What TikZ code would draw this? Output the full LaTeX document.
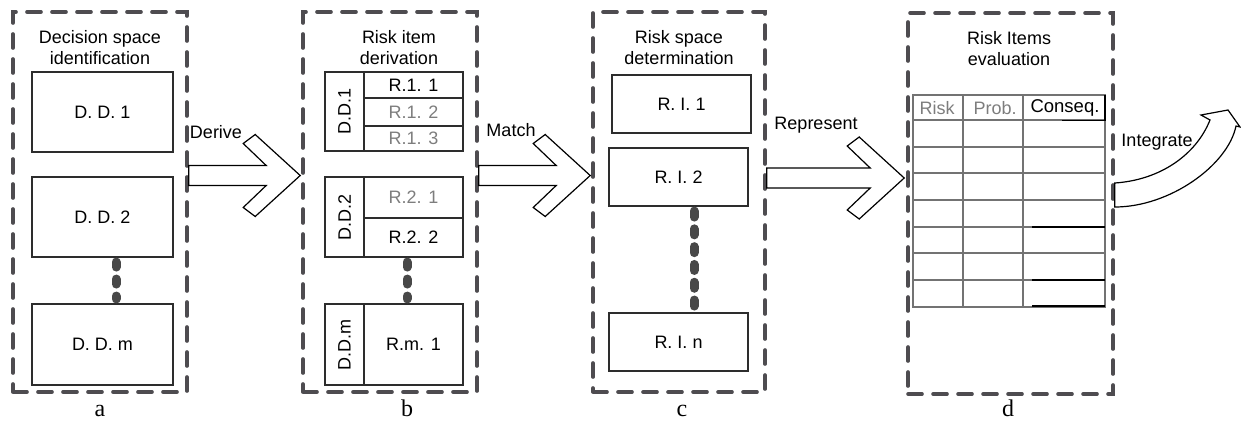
\documentclass[tikz,border=0pt]{standalone}
\usepackage{fontspec}
\setmainfont{Liberation Sans}
\newfontfamily\labelfont{Liberation Serif}
\usetikzlibrary{calc}
\definecolor{framec}{RGB}{78,76,80}
\definecolor{dotc}{RGB}{72,72,72}
\definecolor{boxc}{RGB}{45,45,45}
\definecolor{gridc}{RGB}{115,115,115}
\definecolor{greytext}{RGB}{125,125,125}
\newcommand{\blockarr}[2]{%
  \draw[blockarrow] ($(#1)+(0,-10)$) -- ($(#2)+(-34,-10)$) -- ($(#2)+(-57,-32)$) -- ($(#2)+(-45,-41)$) -- (#2) -- ($(#2)+(-45,41)$) -- ($(#2)+(-57,32)$) -- ($(#2)+(-34,10)$) -- ($(#1)+(0,10)$) -- cycle;}
\begin{document}
\begin{tikzpicture}[x=1pt,y=-1pt,
  frame/.style={draw=framec,line width=3.6pt,dash pattern=on 14pt off 11pt,line cap=round,inner sep=0pt,rectangle},
  box/.style={draw=boxc,line width=1.1pt,inner sep=0pt,rectangle,font=\fontsize{18}{21}\selectfont},
  title/.style={align=center,font=\fontsize{18}{21}\selectfont,inner sep=0pt},
  lbl/.style={font=\fontsize{18}{21}\selectfont,inner sep=0pt},
  sub/.style={font=\labelfont\fontsize{24}{24}\selectfont,inner sep=0pt,anchor=base},
  blockarrow/.style={draw=black,line width=1.2pt,fill=white,line join=miter},
  dotline/.style={draw=dotc,line width=9pt,line cap=round,dash pattern=on 5pt off 12pt},
  gridline/.style={draw=gridc,line width=1.8pt},
  darkline/.style={draw=black,line width=1.6pt},
]
\useasboundingbox (0,0) rectangle (1241,421);

% frames
\node[frame,minimum width=174pt,minimum height=380pt] (fa) at (100,202) {};
\node[frame,minimum width=174pt,minimum height=380pt] (fb) at (390,202) {};
\node[frame,minimum width=172pt,minimum height=380pt] (fc) at (679,202) {};
\node[frame,minimum width=205pt,minimum height=381pt] (fd) at (1010.5,203.5) {};

% titles
\node[title] (ta) at (100,48) {Decision space\\identification};
\node[title] (tb) at (399,48) {Risk item\\derivation};
\node[title] (tc) at (679,48) {Risk space\\determination};
\node[title] (td) at (1009,49) {Risk Items\\evaluation};

% panel a
\node[box,minimum width=141pt,minimum height=80pt] (dd1) at (102.5,112) {D. D. 1};
\node[box,minimum width=141pt,minimum height=80pt] (dd2) at (102.5,217) {D. D. 2};
\node[box,minimum width=141pt,minimum height=81pt] (ddm) at (102.5,344.5) {D. D. m};
\coordinate (da1) at ($(dd2.south)+(13.5,4.5)$);
\coordinate (da2) at ($(ddm.north)+(13.5,-4.5)$);
\draw[dotline] (da1) -- (da2);

% panel b
\node[box,minimum width=39pt,minimum height=79pt] (bd1) at (344.5,111.5) {\rotatebox{90}{D.D.1}};
\node[box,minimum width=99pt,minimum height=26pt] (r11) at (413.5,85) {R.1. 1};
\node[box,minimum width=99pt,minimum height=28pt,text=greytext] (r12) at (413.5,112) {R.1. 2};
\node[box,minimum width=99pt,minimum height=25pt,text=greytext] (r13) at (413.5,138.5) {R.1. 3};
\node[box,minimum width=39pt,minimum height=80pt] (bd2) at (344.5,217) {\rotatebox{90}{D.D.2}};
\node[box,minimum width=99pt,minimum height=41pt,text=greytext] (r21) at (413.5,197.5) {R.2. 1};
\node[box,minimum width=99pt,minimum height=39pt] (r22) at (413.5,237.5) {R.2. 2};
\node[box,minimum width=39pt,minimum height=81pt] (bdm) at (344.5,344.5) {\rotatebox{90}{D.D.m}};
\node[box,minimum width=99pt,minimum height=81pt] (rm1) at (413.5,344.5) {R.m. 1};
\coordinate (db1) at ($(r22.south)+(-6.5,4.5)$);
\coordinate (db2) at ($(rm1.north)+(-6.5,-4.5)$);
\draw[dotline] (db1) -- (db2);

% panel c
\node[box,minimum width=139pt,minimum height=58pt] (ri1) at (681.5,104) {R. I. 1};
\node[box,minimum width=139pt,minimum height=58pt] (ri2) at (678.5,177) {R. I. 2};
\node[box,minimum width=139pt,minimum height=58pt] (rin) at (678.5,342) {R. I. n};
\coordinate (dc1) at ($(ri2.south)+(15.5,4.5)$);
\coordinate (dc2) at ($(rin.north)+(15.5,-4.5)$);
\draw[dotline,dash pattern=on 6pt off 11.8pt] (dc1) -- (dc2);

% panel d table
\draw[gridline] (913,95) rectangle (1105,307);
\foreach \xx in {963,1023} \draw[gridline] (\xx,95) -- (\xx,307);
\foreach \yy in {120,147,173,200,227,253,280} \draw[gridline] (913,\yy) -- (1105,\yy);
\draw[darkline] (1062,120.5) -- (1105,120.5);
\draw[darkline] (1105,95) -- (1105,121);
\foreach \yy in {227,280,306} \draw[darkline] (1032,\yy) -- (1105,\yy);
\node[lbl,text=greytext] (hrisk) at (937,108) {Risk};
\node[lbl,text=greytext] (hprob) at (995,108) {Prob.};
\node[lbl,font=\fontsize{18.5}{21}\selectfont] (hcons) at (1065,108) {Conseq.};

% arrows
\coordinate (h1) at (0,175.5);
\coordinate (h3) at (0,178);
\coordinate (s1) at (fa.east |- h1);
\coordinate (t1) at ($(fb.west |- h1)+(-1,0)$);
\coordinate (s2) at (fb.east |- h1);
\coordinate (t2) at ($(fc.west |- h1)+(-1,0)$);
\coordinate (s3) at (fc.east |- h3);
\coordinate (t3) at ($(fd.west |- h3)+(-2,0)$);
\blockarr{s1}{t1}
\blockarr{s2}{t2}
\blockarr{s3}{t3}
\coordinate (hi1) at (0,183);
\coordinate (hi2) at (0,207);
\coordinate (it) at (fd.east |- hi1);
\coordinate (ib) at (fd.east |- hi2);
\draw[blockarrow] (it) .. controls (1160,180) and (1196,155) .. (1210,120) -- (1201,115) -- (1228,110) -- (1240,127) -- (1236,126) .. controls (1228,165) and (1170,207) .. (ib) -- cycle;

\node[lbl] (lderive) at (216,132) {Derive};
\node[lbl] (lmatch) at (511,130) {Match};
\node[lbl] (lrep) at (816,125) {Represent};
\node[lbl] (lint) at (1157,142) {Integrate};

% sub labels
\node[sub] (la) at (100,416) {a};
\node[sub] (lb) at (407,416) {b};
\node[sub] (lc) at (682,416) {c};
\node[sub] (ld) at (1008,416) {d};
\end{tikzpicture}
\end{document}
